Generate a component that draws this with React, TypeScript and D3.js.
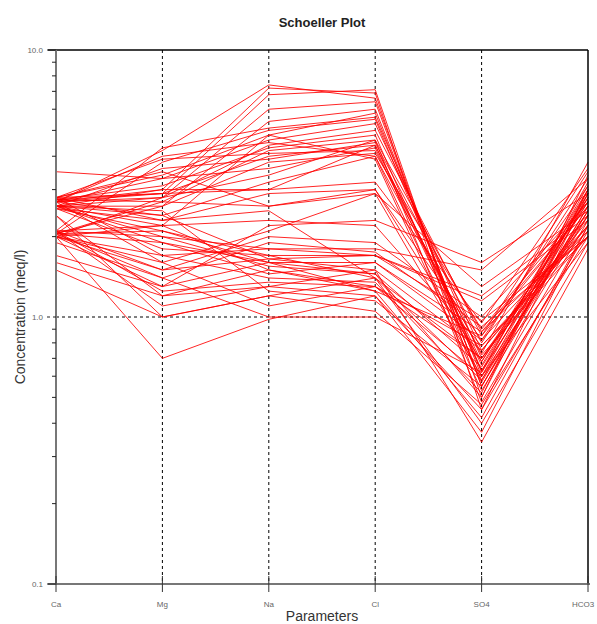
import React from "react";
import * as d3 from "d3";

const params = ["Ca", "Mg", "Na", "Cl", "SO4", "HCO3"];
const yTicks = [0.1, 1, 10];

// one entry per sample, index aligned across the arrays (meq/l)
const ca = [2.7, 2.6, 2.8, 2.6, 2.1, 2.8, 2.7, 2.6, 2.75, 2.05, 2.7, 2.6, 2.8, 2.05, 3.5, 2.6, 2.0, 2.7, 2.75, 2.55, 2.8, 2.0, 2.6, 1.7, 2.1, 2.05, 2.0, 2.05, 2.7, 2.0, 2.55, 1.6, 2.1, 2.8, 2.1, 2.6, 1.5, 2.0, 2.05, 2.4, 2.7, 1.9, 2.6, 2.1, 2.8, 2.0, 2.6, 2.1, 2.75, 2.05, 2.7, 2.0, 2.55, 2.4, 2.7];
const mg = [4.2, 3.0, 2.9, 2.6, 4.3, 3.4, 3.3, 2.8, 3.1, 2.7, 2.9, 3.6, 3.9, 2.6, 3.3, 2.4, 2.2, 3.0, 2.9, 2.3, 3.5, 1.6, 2.2, 1.3, 2.0, 2.1, 1.5, 1.9, 2.4, 1.3, 1.8, 1.2, 2.2, 1.7, 1.1, 2.5, 1.0, 0.7, 1.4, 1.2, 1.6, 1.4, 1.9, 1.5, 2.3, 1.7, 2.0, 1.25, 2.7, 3.8, 4.0, 2.8, 2.1, 1.0, 2.8];
const na = [7.4, 7.2, 6.8, 5.4, 5.1, 4.8, 4.6, 4.4, 4.3, 4.2, 4.0, 3.9, 4.1, 3.8, 3.6, 3.2, 4.8, 3.0, 3.0, 2.9, 2.6, 2.1, 2.3, 2.2, 1.8, 1.7, 1.65, 1.6, 1.65, 1.6, 1.7, 1.5, 1.5, 1.4, 1.3, 1.25, 1.2, 0.98, 1.0, 1.3, 1.1, 1.9, 1.45, 2.0, 2.5, 1.8, 1.55, 1.35, 2.6, 5.0, 4.5, 3.4, 1.6, 1.2, 6.0];
const cl = [6.6, 6.9, 7.1, 6.0, 5.6, 5.8, 5.3, 5.0, 4.8, 4.6, 4.4, 4.5, 4.2, 4.1, 4.3, 4.0, 3.9, 4.4, 3.2, 3.0, 2.9, 2.9, 2.2, 2.3, 1.8, 1.7, 1.7, 1.6, 1.5, 1.45, 1.4, 1.3, 1.25, 1.35, 1.2, 1.15, 1.4, 1.2, 1.0, 1.5, 1.3, 1.75, 1.6, 1.9, 1.4, 1.7, 1.45, 1.3, 3.0, 5.5, 4.0, 4.6, 1.25, 1.05, 6.4];
const so4 = [0.55, 0.45, 0.5, 0.6, 0.7, 0.62, 0.75, 0.85, 0.58, 0.48, 0.66, 0.8, 0.72, 0.9, 0.63, 0.57, 0.53, 0.68, 0.95, 0.82, 0.6, 1.3, 0.78, 1.6, 1.5, 1.2, 0.97, 0.88, 0.75, 0.65, 0.7, 0.6, 0.85, 0.52, 0.45, 0.55, 0.4, 0.37, 0.62, 0.34, 0.7, 0.92, 0.82, 1.0, 0.58, 1.15, 0.5, 0.78, 0.68, 0.63, 0.73, 0.88, 0.42, 0.47, 0.55];
const hco3 = [2.6, 2.9, 3.0, 2.4, 2.7, 3.2, 2.2, 3.5, 2.5, 2.3, 2.9, 3.3, 2.0, 2.7, 3.1, 2.6, 2.4, 2.8, 3.6, 2.2, 3.0, 2.5, 2.1, 2.9, 3.3, 2.4, 2.0, 2.6, 2.3, 2.8, 2.2, 1.9, 2.6, 3.0, 2.1, 2.5, 1.9, 2.2, 2.7, 1.8, 2.4, 2.0, 3.1, 2.7, 2.9, 2.3, 3.4, 2.0, 3.0, 2.5, 3.8, 2.1, 2.2, 2.0, 2.8];

const W = 597;
const H = 624;
const left = 56, right = 588, top = 50, bottom = 584;

export default function App() {
  const x = d3.scalePoint<string>().domain(params).range([left, right]);
  const y = d3.scaleLog().domain([0.1, 10]).range([bottom, top]);

  const samples = ca.map((_, i) => [ca[i], mg[i], na[i], cl[i], so4[i], hco3[i]]);
  const line = d3.line<number>()
    .x((_, j) => x(params[j]) as number)
    .y(d => y(d));

  // minor ticks 2..9 in each decade
  const minor: number[] = [];
  [0.1, 1].forEach(base => {
    for (let k = 2; k <= 9; k++) minor.push(base * k);
  });

  const font = "'Liberation Sans', Arial, sans-serif";

  return (
    <svg width={W} height={H} style={{ position: "absolute", left: 0, top: 0, background: "#fff" }}>
      <text x={322} y={27} textAnchor="middle" fontFamily={font} fontWeight="bold" fontSize={13} fill="#222">
        Schoeller Plot
      </text>

      {/* grid */}
      {params.slice(1, 5).map(p => (
        <line key={p} x1={x(p)} x2={x(p)} y1={top} y2={bottom} stroke="#000" strokeWidth={1} strokeDasharray="3,3" />
      ))}
      <line x1={left} x2={right} y1={y(1)} y2={y(1)} stroke="#000" strokeWidth={1} strokeDasharray="3,3" />

      {/* data */}
      <g fill="none" stroke="#ff0000" strokeWidth={1} strokeOpacity={0.85}>
        {samples.map((s, i) => <path key={i} d={line(s) as string} />)}
      </g>

      {/* frame */}
      <line x1={48} x2={right} y1={top} y2={top} stroke="#000" strokeWidth={1.5} />
      <line x1={right} x2={right} y1={top} y2={bottom} stroke="#000" strokeWidth={1.5} />
      <line x1={left} x2={left} y1={top} y2={bottom + 1} stroke="#777" strokeWidth={2} />
      <line x1={48} x2={right + 2} y1={bottom} y2={bottom} stroke="#777" strokeWidth={2} />

      {/* y axis ticks */}
      {minor.map(v => (
        <line key={v} x1={52} x2={left} y1={y(v)} y2={y(v)} stroke="#222" strokeWidth={1} />
      ))}
      {yTicks.map(v => (
        <g key={v}>
          <line x1={47} x2={left} y1={y(v)} y2={y(v)} stroke="#222" strokeWidth={1} strokeDasharray={v === 1 ? "3,3" : undefined} />
          <text x={43} y={y(v) + 3} textAnchor="end" fontFamily={font} fontSize={8} fill="#666">
            {v.toFixed(1)}
          </text>
        </g>
      ))}

      {/* x axis ticks */}
      {params.map((p, i) => (
        <g key={p}>
          <line x1={x(p)} x2={x(p)} y1={bottom - 8} y2={bottom + 8} stroke="#333" strokeWidth={1} />
          <text x={(x(p) as number) - (i === params.length - 1 ? 5 : 0)} y={607} textAnchor="middle" fontFamily={font} fontSize={8} fill="#666">
            {p}
          </text>
        </g>
      ))}

      <text x={322} y={621} textAnchor="middle" fontFamily={font} fontSize={14} fill="#333">
        Parameters
      </text>
      <text transform={`translate(25,${y(1)}) rotate(-90)`} textAnchor="middle" fontFamily={font} fontSize={14} fill="#333">
        Concentration (meq/l)
      </text>
    </svg>
  );
}
